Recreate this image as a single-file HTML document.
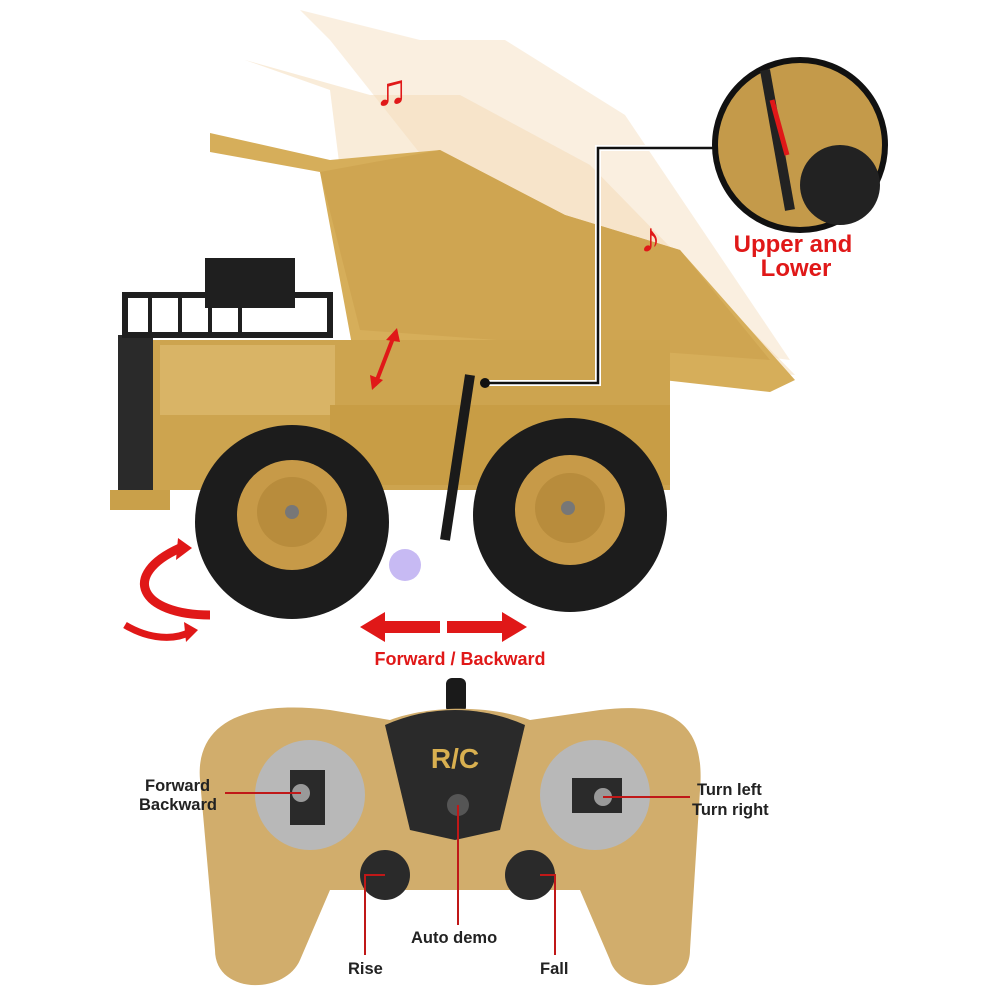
<!DOCTYPE html>
<html><head><meta charset="utf-8"><style>
html,body{margin:0;padding:0;background:#fff;width:1000px;height:1000px;overflow:hidden}
svg{display:block}
text{font-family:"Liberation Sans",sans-serif;font-weight:bold}
</style></head><body>
<svg width="1000" height="1000" viewBox="0 0 1000 1000" xmlns="http://www.w3.org/2000/svg">
<rect width="1000" height="1000" fill="#fff"/>
<!-- ghost beds -->
<polygon points="300,10 420,40 505,40 625,115 790,360 560,330 330,40" fill="#f6e4cc" opacity="0.6"/>
<polygon points="245,60 370,95 460,95 590,165 795,375 360,330 330,90" fill="#f3d9b4" opacity="0.5"/>
<!-- bed -->
<polygon points="210,133 330,160 440,150 565,215 680,250 795,380 770,392 352,345 320,172 210,152" fill="#d6ae5a"/>
<polygon points="320,172 440,150 565,215 680,250 770,360 360,330" fill="#cfa551"/>
<!-- chassis -->
<rect x="150" y="340" width="520" height="150" fill="#cda44f"/>
<rect x="160" y="345" width="175" height="70" fill="#d9b466"/>
<rect x="330" y="405" width="340" height="80" fill="#c89d45"/>
<rect x="118" y="335" width="35" height="160" fill="#2a2a2a"/>
<rect x="110" y="490" width="60" height="20" fill="#c9a04a"/>
<!-- cab frame -->
<rect x="205" y="258" width="90" height="50" fill="#1f1f1f"/>
<rect x="125" y="295" width="205" height="40" fill="none" stroke="#1f1f1f" stroke-width="6"/>
<line x1="150" y1="295" x2="150" y2="335" stroke="#1f1f1f" stroke-width="4"/>
<line x1="180" y1="295" x2="180" y2="335" stroke="#1f1f1f" stroke-width="4"/>
<line x1="210" y1="295" x2="210" y2="335" stroke="#1f1f1f" stroke-width="4"/>
<line x1="240" y1="295" x2="240" y2="335" stroke="#1f1f1f" stroke-width="4"/>
<!-- piston -->
<line x1="470" y1="375" x2="445" y2="540" stroke="#1a1a1a" stroke-width="10"/>
<!-- wheels -->
<circle cx="292" cy="522" r="97" fill="#1c1c1c"/>
<circle cx="292" cy="515" r="55" fill="#c79a48"/>
<circle cx="292" cy="512" r="35" fill="#b88c3c"/>
<circle cx="292" cy="512" r="7" fill="#777"/>
<circle cx="570" cy="515" r="97" fill="#1c1c1c"/>
<circle cx="570" cy="510" r="55" fill="#c79a48"/>
<circle cx="570" cy="508" r="35" fill="#b88c3c"/>
<circle cx="568" cy="508" r="7" fill="#777"/>
<circle cx="405" cy="565" r="16" fill="#b9a9f0" opacity="0.8"/>
<!-- red notes -->
<text x="375" y="105" fill="#e01818" font-size="44">♫</text>
<text x="640" y="252" fill="#e01818" font-size="42">♪</text>
<!-- small bed arrow -->
<line x1="395" y1="333" x2="375" y2="385" stroke="#e01818" stroke-width="4"/>
<polygon points="397,328 386,340 400,342" fill="#e01818"/>
<polygon points="372,390 370,375 383,380" fill="#e01818"/>
<!-- leader line to inset -->
<polyline points="485,383 598,383 598,148 720,148" fill="none" stroke="#fff" stroke-width="6"/>
<polyline points="485,383 598,383 598,148 720,148" fill="none" stroke="#111" stroke-width="2.5"/>
<circle cx="485" cy="383" r="5" fill="#111"/>
<!-- inset -->
<circle cx="800" cy="145" r="85" fill="#c49a4a" stroke="#111" stroke-width="6"/>
<circle cx="840" cy="185" r="40" fill="#222"/>
<line x1="765" y1="70" x2="790" y2="210" stroke="#222" stroke-width="10"/>
<line x1="772" y1="100" x2="787" y2="155" stroke="#e01818" stroke-width="5"/>
<text x="793" y="252" fill="#e01818" font-size="24" text-anchor="middle">Upper and</text>
<text x="796" y="276" fill="#e01818" font-size="24" text-anchor="middle">Lower</text>
<!-- rotation arrow -->
<path d="M180,548 C120,575 140,615 210,615" fill="none" stroke="#e01818" stroke-width="9"/>
<polygon points="178,538 192,548 176,560" fill="#e01818"/>
<path d="M125,625 C150,640 175,640 190,632" fill="none" stroke="#e01818" stroke-width="7"/>
<polygon points="184,622 198,630 186,642" fill="#e01818"/>
<!-- forward/backward arrows -->
<polygon points="360,627 385,612 385,621 440,621 440,633 385,633 385,642" fill="#e01818"/>
<polygon points="527,627 502,612 502,621 447,621 447,633 502,633 502,642" fill="#e01818"/>
<text x="460" y="665" fill="#e01818" font-size="18" text-anchor="middle">Forward / Backward</text>
<!-- controller -->
<rect x="446" y="678" width="20" height="35" rx="6" fill="#1a1a1a"/>
<path d="M200,780 C195,720 250,700 330,710 L390,720 C430,705 490,705 530,720 L600,710 C680,700 705,730 700,790 L690,950 C690,995 620,995 610,960 L580,890 L330,890 L300,960 C285,995 215,995 215,950 Z" fill="#d1ad6c"/>
<path d="M385,725 C430,705 480,705 525,725 L500,830 L455,840 L410,830 Z" fill="#2a2a2a"/>
<text x="455" y="768" fill="#d9b050" font-size="28" text-anchor="middle">R/C</text>
<circle cx="458" cy="805" r="11" fill="#555"/>
<circle cx="310" cy="795" r="55" fill="#b8b8b8"/>
<rect x="290" y="770" width="35" height="55" fill="#2a2a2a"/>
<circle cx="301" cy="793" r="9" fill="#999"/>
<circle cx="595" cy="795" r="55" fill="#b8b8b8"/>
<rect x="572" y="778" width="50" height="35" fill="#2a2a2a"/>
<circle cx="603" cy="797" r="9" fill="#999"/>
<circle cx="385" cy="875" r="25" fill="#2a2a2a"/>
<circle cx="530" cy="875" r="25" fill="#2a2a2a"/>
<!-- leaders -->
<g stroke="#c01818" stroke-width="2" fill="none">
<line x1="225" y1="793" x2="301" y2="793"/>
<line x1="603" y1="797" x2="690" y2="797"/>
<line x1="458" y1="805" x2="458" y2="925"/>
<polyline points="385,875 365,875 365,955"/>
<polyline points="540,875 555,875 555,955"/>
</g>
<g fill="#222" font-size="16.5">
<text x="145" y="791">Forward</text>
<text x="139" y="810">Backward</text>
<text x="697" y="795">Turn left</text>
<text x="692" y="815">Turn right</text>
<text x="411" y="943">Auto demo</text>
<text x="348" y="974">Rise</text>
<text x="540" y="974">Fall</text>
</g>
</svg>
</body></html>
